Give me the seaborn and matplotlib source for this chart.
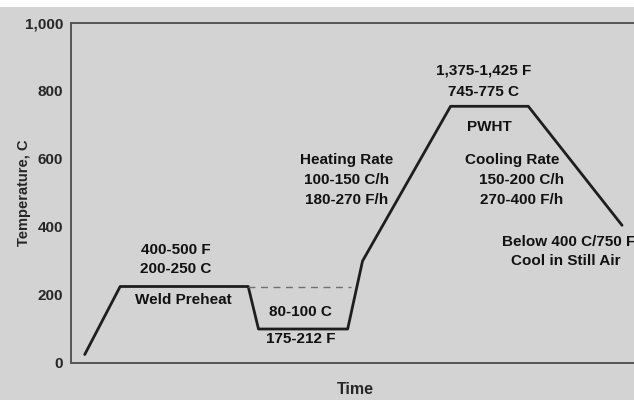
import numpy as np
import pandas as pd
import matplotlib.pyplot as plt
import seaborn as sns
from matplotlib.patches import Rectangle

# thermal cycle
time = [0.12, 0.43, 1.55, 1.64, 2.42, 2.55, 3.32, 4.00, 4.82]
temp = [25, 225, 225, 100, 100, 300, 755, 755, 405]
ref_time = [1.55, 2.45]
ref_temp = [225, 225]
y_ticks = [0, 200, 400, 600, 800, 1000]
y_labels = ["0", "200", "400", "600", "800", "1,000"]
x_ticks = [1, 2, 3, 4]

bg = "#d3d3d3"
ink = "#1e1e1e"

sns.set_theme(style="white")
plt.rcParams["font.family"] = ["Liberation Sans", "DejaVu Sans"]
plt.rcParams["font.weight"] = "bold"

fig = plt.figure(figsize=(6.34, 4.0), dpi=100, facecolor=bg)
fig.patches.append(Rectangle((0, 0.982), 1, 0.02, transform=fig.transFigure,
                             facecolor="white", edgecolor="none", zorder=0))
ax = fig.add_axes([71 / 634, 37 / 400, 1 - 71 / 634 + 0.01, 340 / 400])
ax.set_facecolor(bg)

df = pd.DataFrame({"Time": time, "Temp": temp})
sns.lineplot(data=df, x="Time", y="Temp", sort=False, color=ink, lw=2.0, ax=ax)
sns.lineplot(x=ref_time, y=ref_temp, sort=False, color="#707070", lw=1.0,
             linestyle=(0, (5, 4)), ax=ax)

ax.set_xlim(0, 4.98)
ax.set_ylim(0, 1000)
ax.set_yticks(y_ticks, y_labels, fontsize=11, fontweight="bold")
ax.set_xticks(x_ticks, [])
ax.tick_params(axis="y", direction="in", length=5, width=0.8, color="#666666", pad=5.5)
ax.tick_params(axis="x", direction="in", length=5, width=0.8, color="#888888")
for side in ["left", "bottom", "top", "right"]:
    ax.spines[side].set_color("#555555")
    ax.spines[side].set_linewidth(1.4)
ax.set_xlabel("Time", fontsize=11.5, fontweight="bold", labelpad=10)
ax.set_ylabel("Temperature, C", fontsize=10.5, fontweight="bold", labelpad=-4)

kw = dict(ha="center", va="center", fontsize=11, fontweight="bold", color="#111111")
ax.text(0.92, 332, "400-500 F", **kw)
ax.text(0.92, 276, "200-250 C", **kw)
ax.text(0.98, 185, "Weld Preheat", **kw)
ax.text(2.01, 150, "80-100 C", **kw)
ax.text(2.01, 70, "175-212 F", **kw)
ax.text(2.41, 597, "Heating Rate", **kw)
ax.text(2.41, 538, "100-150 C/h", **kw)
ax.text(2.41, 479, "180-270 F/h", **kw)
ax.text(3.61, 859, "1,375-1,425 F", **kw)
ax.text(3.61, 797, "745-775 C", **kw)
ax.text(3.66, 694, "PWHT", **kw)
ax.text(3.86, 597, "Cooling Rate", **kw)
ax.text(3.94, 538, "150-200 C/h", **kw)
ax.text(3.94, 479, "270-400 F/h", **kw)
ax.text(4.35, 356, "Below 400 C/750 F", **kw)
ax.text(4.33, 300, "Cool in Still Air", **kw)

fig.savefig("out.png", dpi=100, facecolor=bg)
